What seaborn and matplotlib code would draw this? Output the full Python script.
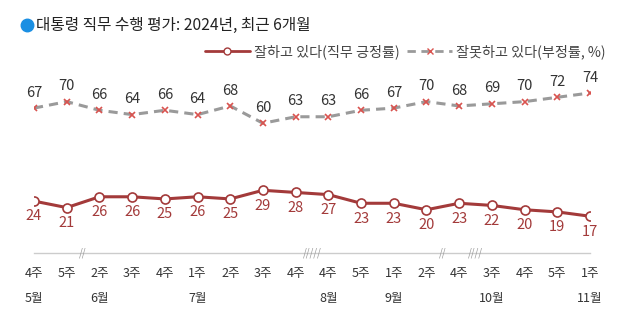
import matplotlib
matplotlib.use("Agg")
import matplotlib.pyplot as plt
import seaborn as sns
import pandas as pd
from matplotlib.lines import Line2D

weeks = ["4주", "5주", "2주", "3주", "4주", "1주", "2주", "3주", "4주",
         "4주", "5주", "1주", "2주", "4주", "3주", "4주", "5주", "1주"]
months = ["5월", "", "6월", "", "", "7월", "", "", "",
          "8월", "", "9월", "", "", "10월", "", "", "11월"]
positive = [24, 21, 26, 26, 25, 26, 25, 29, 28, 27, 23, 23, 20, 23, 22, 20, 19, 17]
negative = [67, 70, 66, 64, 66, 64, 68, 60, 63, 63, 66, 67, 70, 68, 69, 70, 72, 74]
breaks = [(1.5, "//"), (8.5, "/////"), (12.5, "//"), (13.5, "////")]

sns.set_theme(style="white")
plt.rcParams['font.family'] = ['Noto Sans CJK KR', 'DejaVu Sans']

pos_color = "#a33a3a"
neg_line = "#9a9a9a"
neg_marker = "#d9534f"

idx = list(range(len(weeks)))
df = pd.DataFrame({"x": idx, "pos": positive, "neg": negative})

fig = plt.figure(figsize=(6.4, 3.28), dpi=100)
ax = fig.add_axes([34/640, 1-253/328, (590-34)/640, 173/328])

sns.lineplot(data=df, x="x", y="neg", ax=ax, color=neg_line, lw=2.2,
             linestyle=(0, (3, 2)), marker="x", markersize=5,
             markeredgecolor=neg_marker, markeredgewidth=1.2, zorder=3)
sns.lineplot(data=df, x="x", y="pos", ax=ax, color=pos_color, lw=2.2,
             marker="o", markersize=6.5, markerfacecolor="white",
             markeredgecolor=pos_color, markeredgewidth=1.2, zorder=4)

for i, v in enumerate(negative):
    ax.annotate(str(v), (i, v), xytext=(0, 6), textcoords="offset points",
                ha="center", va="bottom", fontsize=10.5, color="#333333")
for i, v in enumerate(positive):
    ax.annotate(str(v), (i, v), xytext=(0, -6), textcoords="offset points",
                ha="center", va="top", fontsize=10.5, color=pos_color)

ax.set_xlim(0, 17)
ax.set_ylim(0, 80)
ax.set_xlabel("")
ax.set_ylabel("")
ax.set_yticks([])
ax.set_xticks(idx)
ax.set_xticklabels([f"{w}\n{m}" if m else w + "\n " for w, m in zip(weeks, months)],
                   fontsize=9, color="#333333", linespacing=2.2, va="top",
                   ha="center")
ax.tick_params(axis="x", direction="in", length=3, color="#cccccc", pad=10)
for s in ["top", "right", "left"]:
    ax.spines[s].set_visible(False)
ax.spines["bottom"].set_color("#cccccc")
ax.spines["bottom"].set_linewidth(1)

for x, s in breaks:
    ax.text(x, 0, s, ha="center", va="center", fontsize=7, color="#999999",
            transform=ax.transData, style="italic")

# title
fig.add_artist(Line2D([27/640], [1-25/328], marker="o", markersize=9,
                      color="#1a8fe3", transform=fig.transFigure, lw=0))
fig.text(36/640, 1-25/328, "대통령 직무 수행 평가: 2024년, 최근 6개월",
         fontsize=11.3, ha="left", va="center", color="#222222", fontweight="medium")

handles = [
    Line2D([], [], color=pos_color, lw=2, marker="o", markersize=5,
           markerfacecolor="white", markeredgecolor=pos_color),
    Line2D([], [], color=neg_line, lw=2, linestyle=(0, (3, 2)), marker="x",
           markersize=5, markeredgecolor=neg_marker),
]
fig.legend(handles, ["잘하고 있다(직무 긍정률)", "잘못하고 있다(부정률, %)"],
           loc="center right", bbox_to_anchor=(606/640, 1-52/328), ncol=2,
           frameon=False, fontsize=10.2, labelcolor="#444444", handlelength=3.2,
           columnspacing=0.5, handletextpad=0.3, borderaxespad=0, borderpad=0)

fig.savefig("out.png", dpi=100)
